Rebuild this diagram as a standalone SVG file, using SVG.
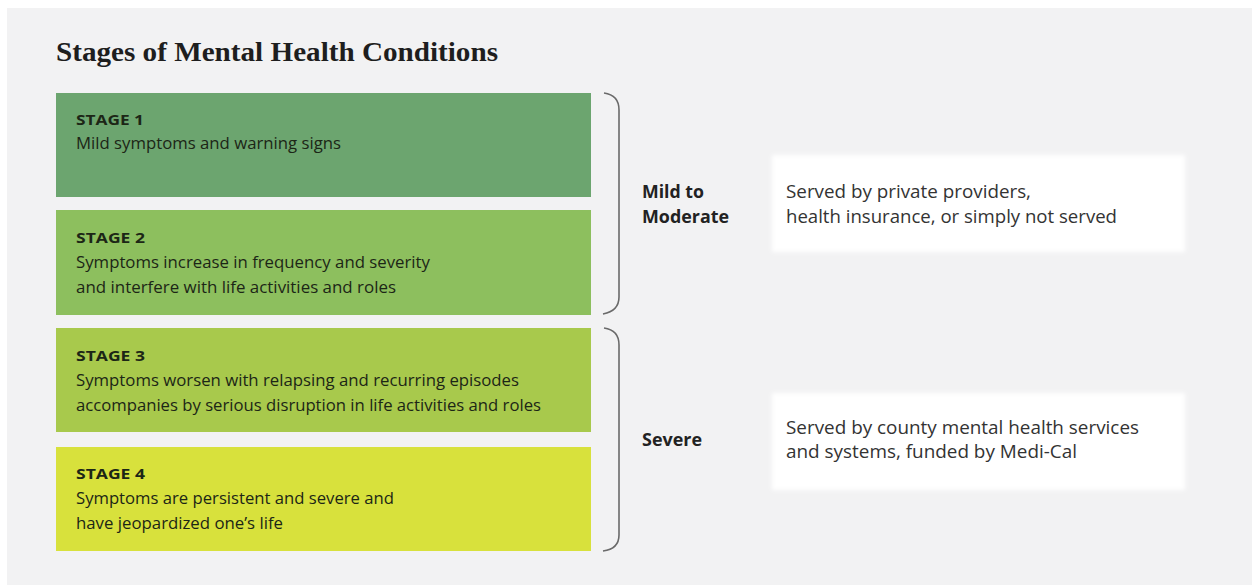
<svg xmlns="http://www.w3.org/2000/svg" width="1252" height="585" viewBox="0 0 1252 585">
  <defs>
    <style>
      .title { font-family: "Liberation Serif", "DejaVu Serif", serif; font-weight: bold; font-size: 28px; fill: #1e1e1e; }
      .stage-head { font-family: "Open Sans", "Noto Sans", sans-serif; font-weight: bold; font-size: 14px; fill: #1c2616; }
      .stage-text { font-family: "Open Sans", "Noto Sans", sans-serif; font-size: 16.5px; fill: #1c2616; }
      .group-label { font-family: "Open Sans", "Noto Sans", sans-serif; font-weight: bold; font-size: 17px; fill: #222; }
      .serve-text { font-family: "Open Sans", "Noto Sans", sans-serif; font-size: 17.5px; fill: #333; }
      .brace { fill: none; stroke: #6a6a6a; stroke-width: 1.6; }
      .serve-box { fill: #ffffff; }
    </style>
    <filter id="soft" x="-5%" y="-10%" width="110%" height="120%">
      <feGaussianBlur stdDeviation="2"/>
    </filter>
  </defs>

  <!-- page and panel -->
  <rect x="0" y="0" width="1252" height="585" fill="#ffffff"/>
  <rect x="7" y="8" width="1245" height="577" fill="#f2f2f3"/>

  <text class="title" x="56" y="61" textLength="442" lengthAdjust="spacingAndGlyphs">Stages of Mental Health Conditions</text>

  <g id="stage1">
    <rect x="56" y="93" width="535" height="104" fill="#6ca56f"/>
    <text class="stage-head" x="76" y="125" textLength="68" lengthAdjust="spacingAndGlyphs">STAGE 1</text>
    <text class="stage-text" x="76" y="149" textLength="265" lengthAdjust="spacingAndGlyphs">Mild symptoms and warning signs</text>
  </g>

  <g id="stage2">
    <rect x="56" y="210" width="535" height="105" fill="#8dbf5e"/>
    <text class="stage-head" x="76" y="243" textLength="69" lengthAdjust="spacingAndGlyphs">STAGE 2</text>
    <text class="stage-text" x="76" y="268" textLength="354" lengthAdjust="spacingAndGlyphs">Symptoms increase in frequency and severity</text>
    <text class="stage-text" x="76" y="293" textLength="320" lengthAdjust="spacingAndGlyphs">and interfere with life activities and roles</text>
  </g>

  <g id="stage3">
    <rect x="56" y="328" width="535" height="104" fill="#a8c94c"/>
    <text class="stage-head" x="76" y="361" textLength="69" lengthAdjust="spacingAndGlyphs">STAGE 3</text>
    <text class="stage-text" x="76" y="386" textLength="443" lengthAdjust="spacingAndGlyphs">Symptoms worsen with relapsing and recurring episodes</text>
    <text class="stage-text" x="76" y="411" textLength="465" lengthAdjust="spacingAndGlyphs">accompanies by serious disruption in life activities and roles</text>
  </g>

  <g id="stage4">
    <rect x="56" y="447" width="535" height="104" fill="#d8e13c"/>
    <text class="stage-head" x="76" y="479" textLength="69" lengthAdjust="spacingAndGlyphs">STAGE 4</text>
    <text class="stage-text" x="76" y="504" textLength="318" lengthAdjust="spacingAndGlyphs">Symptoms are persistent and severe and</text>
    <text class="stage-text" x="76" y="529" textLength="207" lengthAdjust="spacingAndGlyphs">have jeopardized one’s life</text>
  </g>

  <!-- brackets grouping the stages -->
  <g id="connectors">
    <path class="brace" d="M604 93 Q619 95 619 110 L619 297 Q619 311 603 314"/>
    <path class="brace" d="M604 328 Q619 330 619 345 L619 535 Q619 549 603 551"/>
  </g>

  <g id="mild-moderate">
    <text class="group-label" x="642" y="198" textLength="62" lengthAdjust="spacingAndGlyphs">Mild to</text>
    <text class="group-label" x="642" y="223" textLength="87" lengthAdjust="spacingAndGlyphs">Moderate</text>
  </g>

  <g id="severe">
    <text class="group-label" x="642" y="446" textLength="60" lengthAdjust="spacingAndGlyphs">Severe</text>
  </g>

  <g id="served-private">
    <rect class="serve-box" x="772" y="155" width="413" height="97" filter="url(#soft)"/>
    <text class="serve-text" x="786" y="198" textLength="245" lengthAdjust="spacingAndGlyphs">Served by private providers,</text>
    <text class="serve-text" x="786" y="223" textLength="331" lengthAdjust="spacingAndGlyphs">health insurance, or simply not served</text>
  </g>

  <g id="served-county">
    <rect class="serve-box" x="772" y="393" width="413" height="97" filter="url(#soft)"/>
    <text class="serve-text" x="786" y="434" textLength="353" lengthAdjust="spacingAndGlyphs">Served by county mental health services</text>
    <text class="serve-text" x="786" y="458" textLength="291" lengthAdjust="spacingAndGlyphs">and systems, funded by Medi-Cal</text>
  </g>
</svg>
